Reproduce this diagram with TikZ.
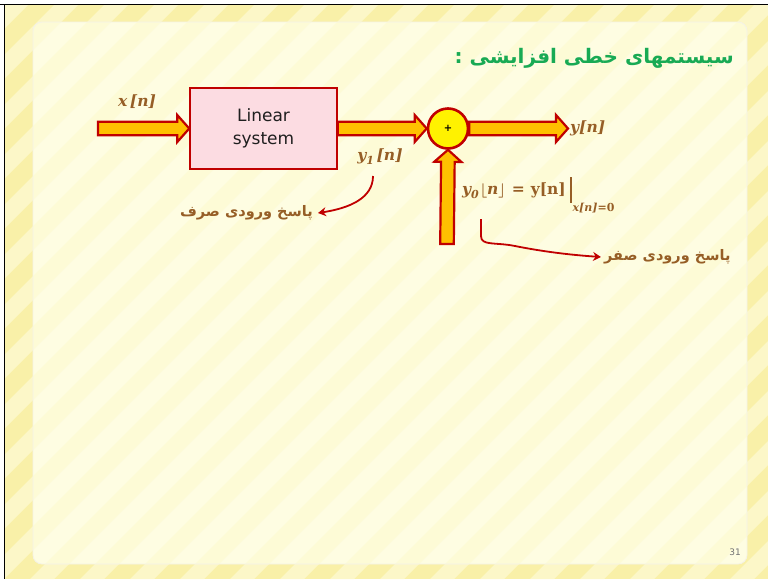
\documentclass[tikz,border=0pt]{standalone}
\usepackage{amsmath}
\usepackage{fontspec}
\usetikzlibrary{calc,arrows.meta}
\newfontfamily\arabicfont[Script=Arabic]{DejaVu Sans}
\newfontfamily\sansf{DejaVu Sans}
\newfontfamily\serf{DejaVu Serif}
\TeXXeTstate=1
\definecolor{outerY}{RGB}{249,240,168}
\definecolor{outerS}{RGB}{252,247,200}
\definecolor{innerY}{RGB}{254,253,226}
\definecolor{innerS}{RGB}{253,251,214}
\definecolor{dred}{RGB}{192,0,0}
\definecolor{aorange}{RGB}{255,192,0}
\definecolor{boxpink}{RGB}{252,220,226}
\definecolor{brownl}{RGB}{150,94,38}
\definecolor{tgreen}{RGB}{24,170,84}
\pgfdeclarelayer{bg}
\pgfdeclarelayer{arr}
\pgfsetlayers{bg,arr,main}
\newcommand\bi{\serf\bfseries\itshape}
\newcommand\bu{\serf\bfseries\upshape}
\tikzset{
  blk/.style={fill=aorange, draw=dred, line width=2.2pt, line join=miter},
  sysbox/.style={draw=dred, fill=boxpink, line width=1.5pt, minimum width=147pt, minimum height=81pt, align=center, font=\sansf\fontsize{17}{23}\selectfont, text=black!88},
  sumc/.style={circle, draw=dred, fill=yellow, line width=2.6pt, minimum size=40pt, inner sep=0pt, font=\sansf\bfseries\fontsize{10}{10}\selectfont},
  lbl/.style={text=brownl, inner sep=1pt, font=\bi\fontsize{15.5}{18}\selectfont},
  fa/.style={text=brownl, inner sep=1pt, font=\arabicfont\bfseries\fontsize{14.5}{17}\selectfont},
  ttl/.style={text=tgreen, inner sep=0pt, font=\arabicfont\bfseries\fontsize{20}{24}\selectfont},
  redarr/.style={draw=dred, line width=1.8pt, -{Stealth[length=8pt,width=9pt]}},
}
\newcommand\blockarrow[2]{%
  \coordinate (H) at ($(#2)!12pt!(#1)$);
  \draw[blk] ($(#1)!6.8pt!90:(#2)$) -- ($(H)!6.8pt!-90:(#1)$) -- ($(H)!13.5pt!-90:(#1)$) -- (#2)
     -- ($(H)!13.5pt!90:(#1)$) -- ($(H)!6.8pt!90:(#1)$) -- ($(#1)!6.8pt!-90:(#2)$) -- cycle;
}
\begin{document}
\begin{tikzpicture}[x=1pt,y=-1pt]
\useasboundingbox (0,0) rectangle (768,579);
\begin{pgfonlayer}{bg}
\fill[white] (0,0) rectangle (768,579);
\fill[outerY] (4,4) rectangle (768,579);
\begin{scope}
  \clip (4,4) rectangle (768,579);
  \foreach \i in {-620,-570,...,800}
    \fill[outerS] (\i,579) -- ++(24,0) -- ++(579,-579) -- ++(-24,0) -- cycle;
\end{scope}
\fill[innerY, rounded corners=9pt] (33,22) rectangle (747,564);
\begin{scope}
  \clip[rounded corners=9pt] (33,22) rectangle (747,564);
  \foreach \i in {-620,-570,...,800}
    \fill[innerS] (\i,579) -- ++(24,0) -- ++(579,-579) -- ++(-24,0) -- cycle;
\end{scope}
\draw[color=outerY!80!black!20!white, line width=0.8pt, rounded corners=9pt] (33,22) rectangle (747,564);
\draw[black, line width=1.8pt] (0,4.5) -- (768,4.5);
\draw[black, line width=1.8pt] (4.5,4) -- (4.5,579);
\end{pgfonlayer}

\node[sysbox] (sys) at (263.5,128.5) {Linear\\system};
\node[sumc] (sum) at (448,128.5) {+};
\coordinate (xin) at (98,128.5);
\coordinate (yout) at (568,128.5);
\coordinate (vin) at (447,244);

\begin{pgfonlayer}{arr}
\blockarrow{xin}{sys.west}
\blockarrow{sys.east}{sum.west}
\blockarrow{sum.east}{yout}
\blockarrow{vin}{sum.south}
\end{pgfonlayer}

\node[lbl] (xl) at (137,102) {x\,[n]};
\node[lbl] (y1l) at (380,157) {y\raisebox{-0.25em}{\fontsize{11}{11}\selectfont 1}\,[n]};
\node[lbl, anchor=west] (yl) at (569,128) {y[n]};
\node[lbl, anchor=west] (y0l) at (461,195) {y\raisebox{-0.25em}{\fontsize{11}{11}\selectfont 0}\hspace{1pt}$\boldsymbol{\lfloor}$n$\boldsymbol{\rfloor}$\hspace{6pt}{\bu =}\hspace{6pt}{\bu y[n]}\hspace{4pt}\raisebox{-0.55em}{\rule{1.8pt}{1.65em}}\hspace{1pt}\raisebox{-1.1em}{\fontsize{11}{11}\selectfont x[n]{\bu =0}}};

\node[fa, anchor=east] (p1) at (314,213) {\beginR پاسخ ورودی صرف\endR};
\node[fa, anchor=west] (p2) at (603,257) {\beginR پاسخ ورودی صفر\endR};

\node[ttl, anchor=east] (title) at (734,58) {\beginR سیستمهای خطی افزایشی :\endR};
\node[text=black!55, font=\sansf\fontsize{9}{10}\selectfont] (pg) at (735,552) {31};

\coordinate (c1) at (373,176);
\draw[redarr] (c1) .. controls (373,198) and (350,208) .. ($(p1.east)+(4,0)$);
\coordinate (c2) at (481,219);
\draw[redarr] (c2) -- (481,236) .. controls (481,246) and (495,242) .. (515,246) .. controls (545,252) and (572,255) .. ($(p2.west)+(-2,0)$);
\end{tikzpicture}
\end{document}
